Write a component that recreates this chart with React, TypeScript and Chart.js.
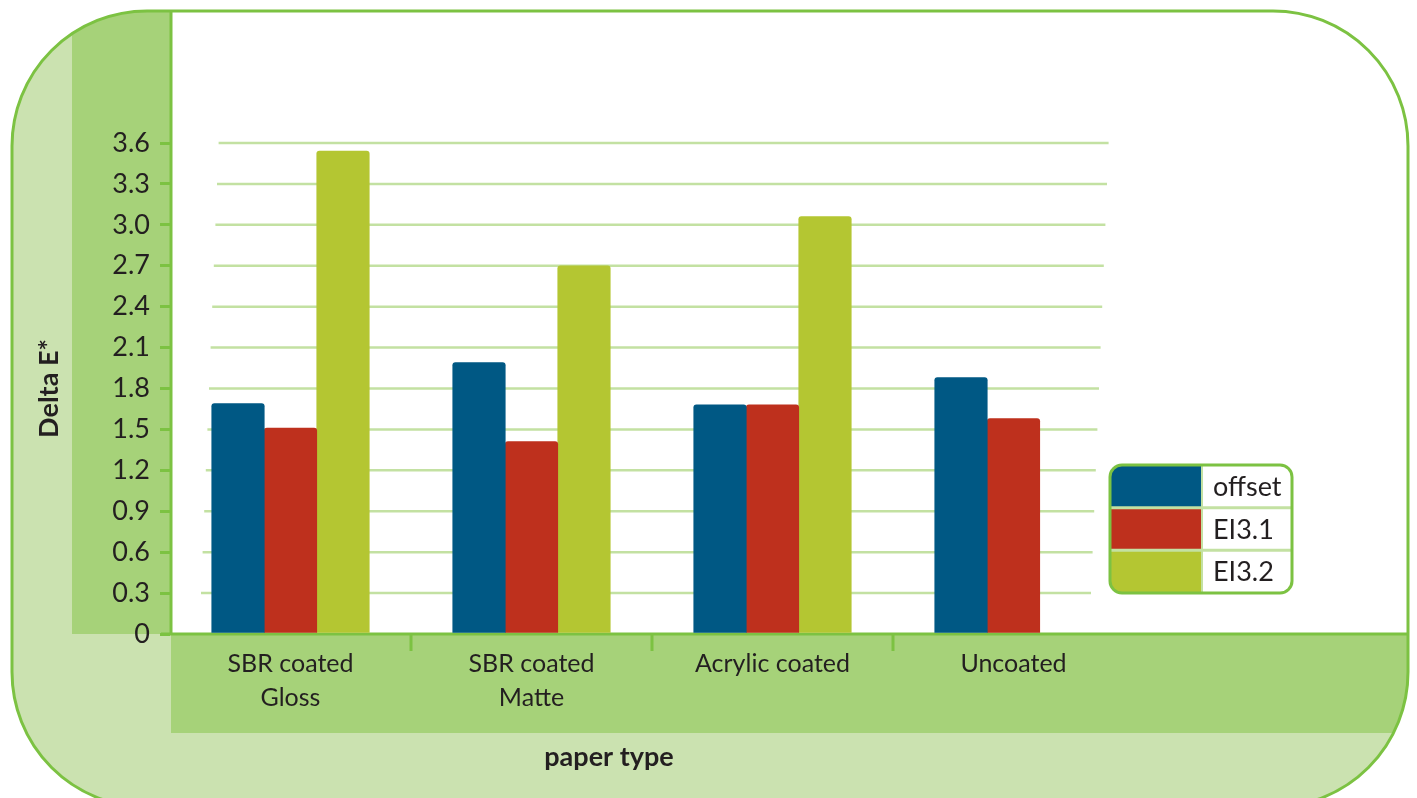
import React, { useEffect, useRef } from "react";
import { Chart, registerables } from "chart.js";

Chart.register(...registerables);

// ---- data ----
const categories: (string | string[])[] = [
  ["SBR coated", "Gloss"],
  ["SBR coated", "Matte"],
  "Acrylic coated",
  "Uncoated",
];
const seriesNames = ["offset", "EI3.1", "EI3.2"];
const offsetValues = [1.69, 1.99, 1.68, 1.88];
const ei31Values = [1.51, 1.41, 1.68, 1.58];
const ei32Values: (number | null)[] = [3.54, 2.7, 3.06, null];
const yAxisTitle = "Delta E*";
const xAxisTitle = "paper type";
const yMin = 0;
const yMax = 3.6;
const yStep = 0.3;

// ---- style ----
const W = 1417;
const H = 798;
const BLUE = "#005884";
const RED = "#be301d";
const LIME = "#b4c632";
const LIGHT = "#cbe2b0";
const MID = "#a6d279";
const BORDER = "#7cc242";
const GRID = "#c3e1a2";
const TEXT = "#231f20";
const FONT = "Lato, 'Open Sans', sans-serif";

function roundRectPath(ctx: CanvasRenderingContext2D, x: number, y: number, w: number, h: number, r: number) {
  ctx.beginPath();
  ctx.moveTo(x + r, y);
  ctx.lineTo(x + w - r, y);
  ctx.arcTo(x + w, y, x + w, y + r, r);
  ctx.lineTo(x + w, y + h - r);
  ctx.arcTo(x + w, y + h, x + w - r, y + h, r);
  ctx.lineTo(x + r, y + h);
  ctx.arcTo(x, y + h, x, y + h - r, r);
  ctx.lineTo(x, y + r);
  ctx.arcTo(x, y, x + r, y, r);
  ctx.closePath();
}

const outerFrame = (ctx: CanvasRenderingContext2D) => roundRectPath(ctx, 12, 11, 1396, 796, 135);

const decorPlugin = {
  id: "decor",
  beforeDraw(chart: any) {
    const ctx: CanvasRenderingContext2D = chart.ctx;
    const { chartArea } = chart;
    const ax = chartArea.left + 1;
    const ay = chartArea.bottom;
    ctx.save();
    outerFrame(ctx);
    ctx.fillStyle = LIGHT;
    ctx.fill();
    ctx.clip();
    ctx.fillStyle = MID;
    ctx.fillRect(72, 0, ax - 72, ay);
    ctx.fillStyle = "#ffffff";
    ctx.fillRect(ax, 0, W - ax, ay);
    ctx.fillStyle = MID;
    ctx.fillRect(ax, ay, W - ax, 99);
    // y axis line (clipped by frame)
    ctx.strokeStyle = BORDER;
    ctx.lineWidth = 3;
    ctx.beginPath();
    ctx.moveTo(ax, 0);
    ctx.lineTo(ax, ay);
    ctx.stroke();
    ctx.restore();
    ctx.save();
    outerFrame(ctx);
    ctx.strokeStyle = BORDER;
    ctx.lineWidth = 3;
    ctx.stroke();
    ctx.restore();
  },
  beforeDatasetsDraw(chart: any) {
    const ctx: CanvasRenderingContext2D = chart.ctx;
    const { chartArea, scales } = chart;
    const y = scales.y;
    const x = scales.x;
    const ax = chartArea.left + 1;
    const ay = chartArea.bottom;
    ctx.save();
    // slanted grid lines
    ctx.strokeStyle = GRID;
    ctx.lineWidth = 2.5;
    y.ticks.forEach((t: any) => {
      if (t.value <= 0) return;
      const k = Math.round(t.value / yStep);
      const py = y.getPixelForValue(t.value);
      const x0 = ax + 30 + (k - 1) * 1.6;
      ctx.beginPath();
      ctx.moveTo(x0, py);
      ctx.lineTo(x0 + 890, py);
      ctx.stroke();
    });
    // x axis line
    ctx.strokeStyle = BORDER;
    ctx.lineWidth = 3;
    ctx.beginPath();
    ctx.moveTo(ax - 10, ay);
    ctx.lineTo(1408, ay);
    ctx.stroke();
    // x tick marks between categories
    for (let i = 1; i < categories.length; i++) {
      const px = Math.round((x.getPixelForTick(i - 1) + x.getPixelForTick(i)) / 2);
      ctx.beginPath();
      ctx.moveTo(px, ay);
      ctx.lineTo(px, ay + 17);
      ctx.stroke();
    }
    ctx.restore();
  },
  afterDraw(chart: any) {
    const ctx: CanvasRenderingContext2D = chart.ctx;
    // x axis title
    ctx.save();
    ctx.font = `bold 27px ${FONT}`;
    ctx.fillStyle = TEXT;
    ctx.textAlign = "center";
    ctx.textBaseline = "middle";
    ctx.fillText(xAxisTitle, 609, 757);
    ctx.restore();

    // legend
    const lx = 1110, ly = 465, lw = 182, lh = 128, r = 12;
    const sw = 91;
    const rows = chart.data.datasets.length;
    const rh = lh / rows;
    ctx.save();
    roundRectPath(ctx, lx, ly, lw, lh, r);
    ctx.fillStyle = "#ffffff";
    ctx.fill();
    ctx.clip();
    chart.data.datasets.forEach((ds: any, i: number) => {
      ctx.fillStyle = ds.backgroundColor;
      ctx.fillRect(lx, ly + i * rh, sw, rh);
    });
    ctx.strokeStyle = GRID;
    ctx.lineWidth = 3;
    for (let i = 1; i < rows; i++) {
      ctx.beginPath();
      ctx.moveTo(lx, ly + i * rh);
      ctx.lineTo(lx + lw, ly + i * rh);
      ctx.stroke();
    }
    ctx.lineWidth = 2;
    ctx.beginPath();
    ctx.moveTo(lx + sw + 1, ly);
    ctx.lineTo(lx + sw + 1, ly + lh);
    ctx.stroke();
    ctx.restore();
    ctx.save();
    roundRectPath(ctx, lx, ly, lw, lh, r);
    ctx.strokeStyle = BORDER;
    ctx.lineWidth = 3;
    ctx.stroke();
    ctx.font = `27px ${FONT}`;
    ctx.fillStyle = TEXT;
    ctx.textAlign = "left";
    ctx.textBaseline = "middle";
    chart.data.datasets.forEach((ds: any, i: number) => {
      ctx.fillText(ds.label, lx + sw + 12, ly + i * rh + rh / 2 + 1);
    });
    ctx.restore();
  },
};

export default function App() {
  const ref = useRef<HTMLCanvasElement | null>(null);

  useEffect(() => {
    if (!ref.current) return;
    const chart = new Chart(ref.current, {
      type: "bar",
      data: {
        labels: categories as any,
        datasets: [
          { label: seriesNames[0], data: offsetValues, backgroundColor: BLUE },
          { label: seriesNames[1], data: ei31Values, backgroundColor: RED },
          { label: seriesNames[2], data: ei32Values as any, backgroundColor: LIME },
        ],
      },
      options: {
        responsive: false,
        animation: false,
        layout: { padding: { top: 143, right: W - 1134, left: 0, bottom: 0 } },
        datasets: {
          bar: {
            barThickness: 52.5,
            borderRadius: { topLeft: 3, topRight: 3 },
            borderSkipped: "bottom",
          },
        },
        plugins: {
          legend: { display: false },
          tooltip: { enabled: false },
        },
        scales: {
          x: {
            offset: true,
            grid: { display: false, drawTicks: false, tickLength: 0 },
            border: { display: false },
            ticks: {
              autoSkip: false,
              maxRotation: 0,
              padding: 13,
              color: TEXT,
              font: { family: FONT, size: 25, lineHeight: 1.36 },
            },
            afterFit: (s: any) => {
              s.height = H - 634;
            },
          },
          y: {
            min: yMin,
            max: yMax,
            border: { display: false },
            grid: {
              drawOnChartArea: false,
              drawTicks: true,
              tickLength: 10,
              color: BORDER,
              lineWidth: 3,
            },
            ticks: {
              stepSize: yStep,
              padding: 10,
              color: TEXT,
              font: { family: FONT, size: 27 },
              callback: (v: any) => (Number(v) === 0 ? "0" : Number(v).toFixed(1)),
            },
            title: {
              display: true,
              text: yAxisTitle,
              color: TEXT,
              font: { family: FONT, size: 27, weight: "bold" },
              padding: { top: 33, bottom: 0 },
            },
            afterFit: (s: any) => {
              s.width = 170;
            },
          },
        },
      },
      plugins: [decorPlugin],
    });
    return () => chart.destroy();
  }, []);

  return (
    <canvas
      ref={ref}
      width={W}
      height={H}
      style={{ position: "fixed", left: 0, top: 0, width: W, height: H, display: "block" }}
    />
  );
}
